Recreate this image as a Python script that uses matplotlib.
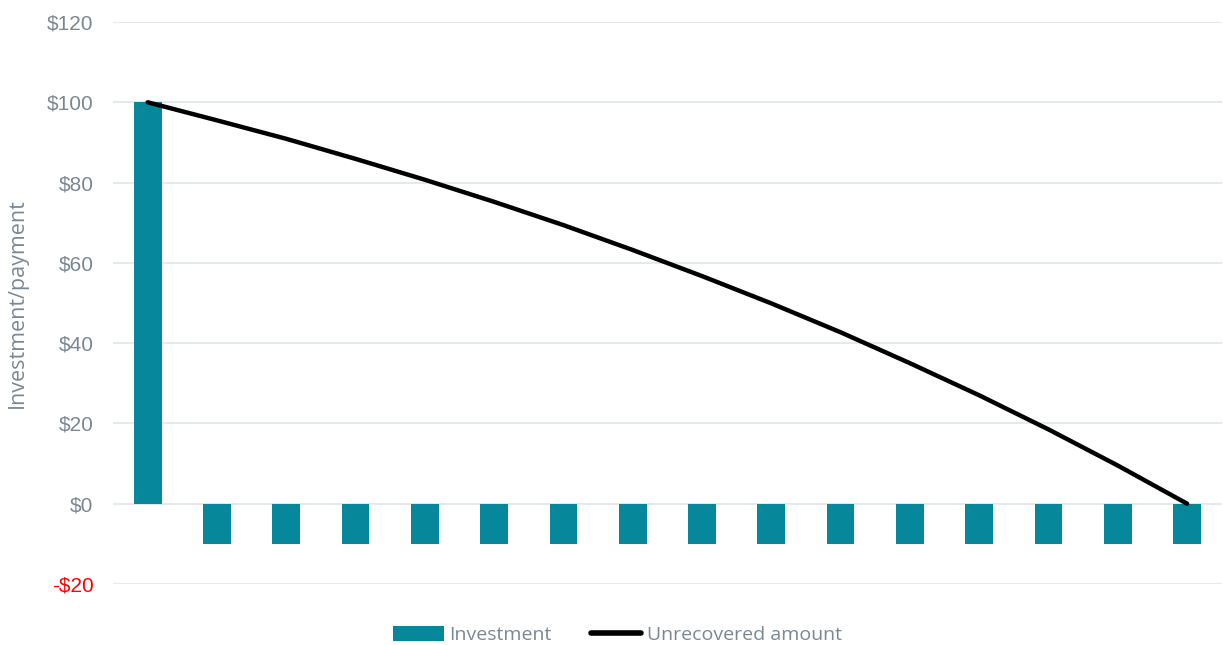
import matplotlib
matplotlib.use("Agg")
import matplotlib.pyplot as plt
from matplotlib.patches import Patch
from matplotlib.lines import Line2D

periods = list(range(16))
investment = [100] + [-10] * 15
unrecovered = [100, 95.5, 90.9, 85.9, 80.7, 75.2, 69.4, 63.2, 56.7, 49.9,
               42.7, 35.0, 27.0, 18.5, 9.5, 0]
yticks = [-20, 0, 20, 40, 60, 80, 100, 120]
yticklabels = ["-$20", "$0", "$20", "$40", "$60", "$80", "$100", "$120"]

teal = "#07889a"
gray = "#7a8894"

fig = plt.figure(figsize=(12.23, 6.45), dpi=100)
ax = fig.add_axes([0.0924, 0.0946, 0.9066, 0.8713])

ax.bar(periods, investment, width=0.4, color=teal, zorder=2)
ax.plot(periods, unrecovered, color="black", lw=3.2, solid_capstyle="round", zorder=3)

ax.set_xlim(-0.5, 15.5)
ax.set_ylim(-20, 120)
ax.set_yticks(yticks)
ax.set_yticklabels(yticklabels, fontsize=15, family="Liberation Sans", color=gray)
ax.get_yticklabels()[0].set_color("#ff0000")
ax.set_xticks([])
ax.tick_params(axis="y", length=0, pad=14)
for s in ax.spines.values():
    s.set_visible(False)
ax.grid(axis="y", color="#e4e9ee", lw=1.5, zorder=0)
ax.set_axisbelow(True)

ax.set_ylabel("Investment/payment", fontsize=15.5, family="Open Sans", color=gray)
ax.yaxis.set_label_coords(-0.077, 0.5)

handles = [Patch(facecolor=teal, edgecolor="none"),
           Line2D([0], [0], color="black", lw=4, solid_capstyle="round")]
leg = fig.legend(handles, ["Investment", "Unrecovered amount"],
                 loc="center", bbox_to_anchor=(0.505, 0.015), ncol=2, frameon=False,
                 prop={"family": "Open Sans", "size": 14}, handlelength=2.6,
                 handleheight=0.8, handletextpad=0.3, columnspacing=2.0)
for t in leg.get_texts():
    t.set_color(gray)

fig.savefig("out.png", dpi=100, facecolor="white")
